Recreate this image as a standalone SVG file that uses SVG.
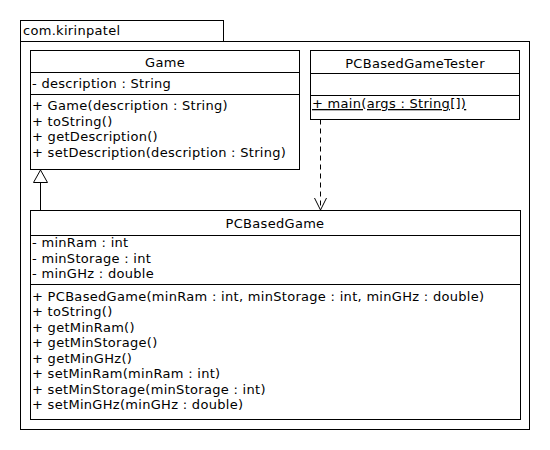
<svg xmlns="http://www.w3.org/2000/svg" width="550" height="450" viewBox="0 0 550 450">
<style>
.box{fill:#fff;stroke:#000;stroke-width:1}
.ln{stroke:#000;stroke-width:1;fill:none}
text{font-family:"DejaVu Sans","Liberation Sans",sans-serif;font-size:13px;letter-spacing:0.3px;fill:#000}
.c{text-anchor:middle}
</style>
<rect width="550" height="450" fill="#fff"/>
<g id="package">
<rect class="box" x="20.5" y="20.5" width="203" height="21"/>
<rect class="box" x="20.5" y="41.5" width="509" height="388"/>
<text x="23" y="35">com.kirinpatel</text>
</g>
<g id="Game">
<rect class="box" x="30.5" y="50.5" width="269" height="119"/>
<line class="ln" x1="30.5" y1="72.5" x2="299.5" y2="72.5"/>
<line class="ln" x1="30.5" y1="94.5" x2="299.5" y2="94.5"/>
<text class="c" x="165" y="67">Game</text>
<text x="32" y="88">- description : String</text>
<text x="32" y="110">+ Game(description : String)</text>
<text x="32" y="125.5">+ toString()</text>
<text x="32" y="141">+ getDescription()</text>
<text x="32" y="156.5">+ setDescription(description : String)</text>
</g>
<g id="PCBasedGameTester">
<rect class="box" x="310.5" y="50.5" width="209" height="69"/>
<line class="ln" x1="310.5" y1="73.5" x2="519.5" y2="73.5"/>
<line class="ln" x1="310.5" y1="95.5" x2="519.5" y2="95.5"/>
<text class="c" x="415" y="68">PCBasedGameTester</text>
<text x="312" y="108" text-decoration="underline">+ main(args : String[])</text>
</g>
<g id="PCBasedGame">
<rect class="box" x="30.5" y="210.5" width="490" height="209"/>
<line class="ln" x1="30.5" y1="235.5" x2="520.5" y2="235.5"/>
<line class="ln" x1="30.5" y1="284.5" x2="520.5" y2="284.5"/>
<text class="c" x="275" y="228">PCBasedGame</text>
<text x="32" y="247">- minRam : int</text>
<text x="32" y="262.5">- minStorage : int</text>
<text x="32" y="278">- minGHz : double</text>
<text x="32" y="300.5">+ PCBasedGame(minRam : int, minStorage : int, minGHz : double)</text>
<text x="32" y="316">+ toString()</text>
<text x="32" y="331.5">+ getMinRam()</text>
<text x="32" y="347">+ getMinStorage()</text>
<text x="32" y="362.5">+ getMinGHz()</text>
<text x="32" y="378">+ setMinRam(minRam : int)</text>
<text x="32" y="393.5">+ setMinStorage(minStorage : int)</text>
<text x="32" y="409">+ setMinGHz(minGHz : double)</text>
</g>
<g id="connectors">
<line class="ln" x1="40.5" y1="182.5" x2="40.5" y2="210.5"/>
<polygon points="40.5,170 33.5,182.5 47.5,182.5" fill="#fff" stroke="#000" stroke-width="1"/>
<line class="ln" x1="320.5" y1="119.5" x2="320.5" y2="209.5" stroke-dasharray="5,4"/>
<polyline class="ln" points="314.5,198 320.5,210 326.5,198"/>
</g>
</svg>
